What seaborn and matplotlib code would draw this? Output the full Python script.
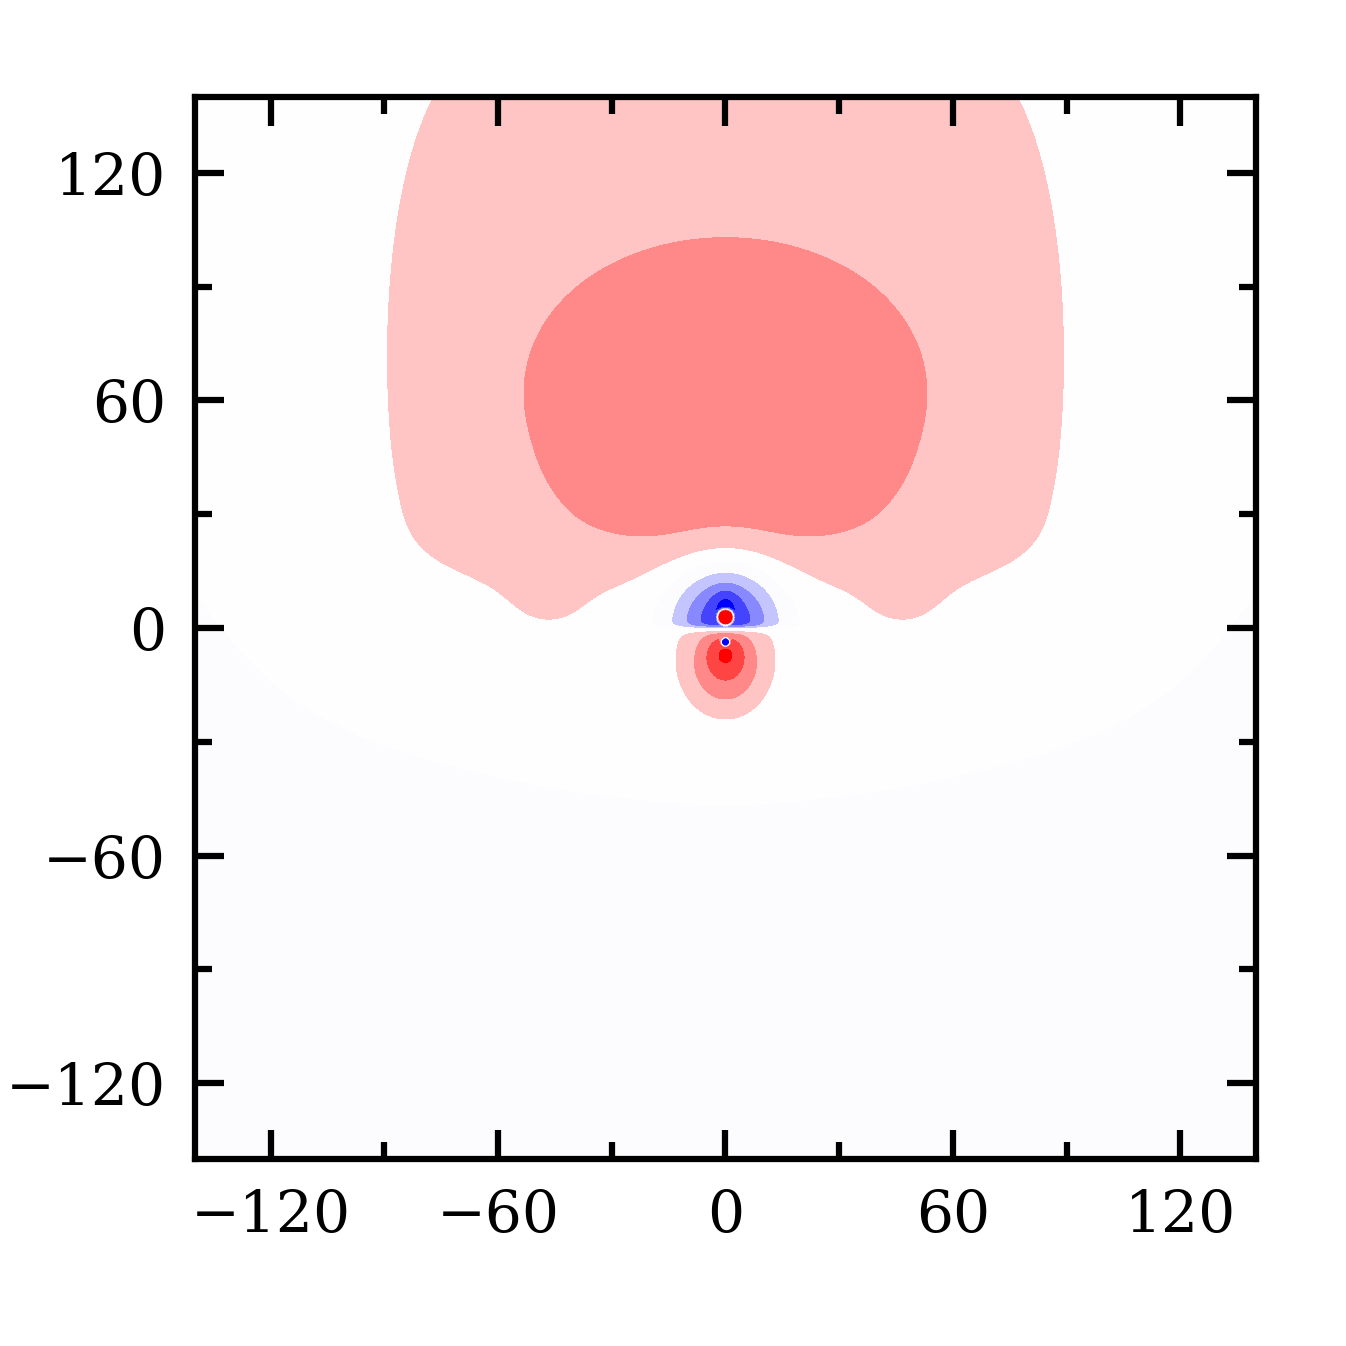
#### Filled contour map of a signed field (bwr colours), dipole near the origin

import numpy as np
import matplotlib as mpl
mpl.use('Agg')
import matplotlib.pyplot as plt
import seaborn as sns

#### Contour levels and the colour (fraction of bwr) of each band between them
levels = [-100, -4, -3, -2, -1, 0, 1, 2, 3, 4, 100]
band_fracs = [0.0, 0.133, 0.267, 0.385, 0.494, 0.503, 0.615, 0.733, 0.867, 1.0]

#### Tick values
major_ticks = [-120, -60, 0, 60, 120]
minor_ticks = [-90, -30, 30, 90]
axis_range = [-140, 140]

#### Field model: a background offset, a tall plume and a set of blobs
offset = -0.12
plume_amp = 1.35
plume_sx = 91.2
plume_px = 6
plume_yc = 60
plume_sy = 105
plume_base = 3.0
plume_base_w = 8

blob_names = ['halo', 'core', 'base', 'shoulder_l', 'shoulder_r', 'foot_l', 'foot_r', 'notch',
              'lobe_neg', 'cap_neg', 'lobe_pos_outer', 'lobe_pos_inner', 'spot_pos', 'spot_neg']
blob_x0 = [0, 0, 0, -38, 38, -47, 47, 0, 0, 0, 0, 0, 0, 0]
blob_y0 = [110, 61, 26, 35, 35, 1, 1, 10, 1.5, 6.8, -10, -6.3, 2.9, -3.7]
blob_sx = [125, 52, 35, 12, 12, 12, 12, 14, 9.6, 2.5, 8.0, 3.5, 1.6, 1.0]
blob_sy = [106, 41.5, 5, 9, 9, 8, 8, 9, 10.5, 2.8, 9.2, 3.5, 1.6, 1.0]
blob_amp = [0.35, 0.9, 0.2, 0.15, 0.15, 0.38, 0.38, -0.63, -4.2, -0.9, 2.95, 1.2, 14, -12]
blob_pow = [1, 3, 1, 1, 1, 1, 1, 1, 1, 1, 1, 1, 2, 2]
blob_cut_y = [0, 0, 0, 0, 0, 0, 0, 0, 0.0, 0, -0.8, -0.8, 0, 0]
blob_cut_side = [0, 0, 0, 0, 0, 0, 0, 0, 1, 0, -1, -1, 0, 0]
blob_cut_w = [1, 1, 1, 1, 1, 1, 1, 1, 0.4, 1, 0.5, 0.5, 1, 1]


def sigmoid(t):
    return 1.0 / (1.0 + np.exp(-t))


#### Build the grid
grid = np.linspace(axis_range[0], axis_range[1], 1401)
X, Y = np.meshgrid(grid, grid)

field = np.full_like(X, offset)
field += (plume_amp * np.exp(-0.5 * np.abs(X / plume_sx) ** plume_px)
          * np.exp(-0.5 * ((Y - plume_yc) / plume_sy) ** 2)
          * sigmoid((Y - plume_base) / plume_base_w))

for i in range(len(blob_names)):
    q = ((X - blob_x0[i]) / blob_sx[i]) ** 2 + ((Y - blob_y0[i]) / blob_sy[i]) ** 2
    part = blob_amp[i] * np.exp(-0.5 * q ** blob_pow[i])
    if blob_cut_side[i] != 0:
        part = part * sigmoid(blob_cut_side[i] * (Y - blob_cut_y[i]) / blob_cut_w[i])
    field += part

#### Plot
sns.set_theme(style='white')
plt.rcParams['font.family'] = ['DejaVu Serif']
plt.rcParams['mathtext.fontset'] = 'dejavuserif'

bwr = mpl.colormaps['bwr']
band_colors = [bwr(f) for f in band_fracs]

fig = plt.figure(figsize=(1346 / 300, 1346 / 300), dpi=300)
ax = fig.add_axes([0.1449, 0.1389, 0.7882, 0.7890])
ax.contourf(X, Y, field, levels=levels, colors=band_colors)
ax.set_axisbelow(False)

ax.set_xlim(axis_range)
ax.set_ylim(axis_range)
ax.set_xticks(major_ticks)
ax.set_yticks(major_ticks)
ax.set_xticks(minor_ticks, minor=True)
ax.set_yticks(minor_ticks, minor=True)
ax.tick_params(which='both', direction='in', top=True, right=True, bottom=True, left=True,
               color='black', width=1.5, labelsize=14, labelcolor='black')
ax.tick_params(which='major', length=7, pad=7)
ax.tick_params(which='minor', length=4)
for s in ax.spines.values():
    s.set_linewidth(1.5)
    s.set_color('black')
    s.set_zorder(5)

plt.savefig('out.png', dpi=300)
